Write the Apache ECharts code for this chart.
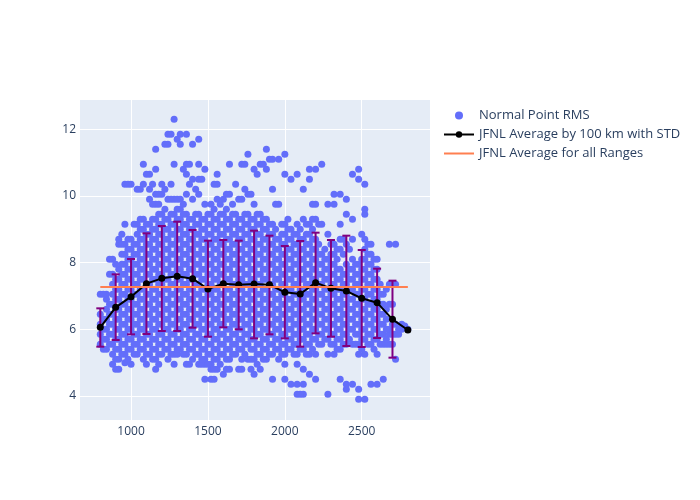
<!DOCTYPE html>
<html><head><meta charset="utf-8">
<script src="https://cdn.jsdelivr.net/npm/echarts@6/dist/echarts.min.js"></script>
<style>html,body{margin:0;padding:0;background:#fff}#c{width:700px;height:500px}</style>
</head><body><div id="c"></div>
<script>
// Scatter, set A: x of each column, and y values read in that column
const ptColsA = [800,840,880,920,960,1000,1040,1080,1120,1160,1200,1240,1280,1320,1360,1400,1440,1480,1520,1560,1600,1640,1680,1720,1760,1800,1840,1880,1920,1960,2000,2040,2080,2120,2160,2200,2240,2280,2320,2360,2400,2440,2480,2520,2560,2600,2640,2680,2720,2760,2800];
const ptValsA = [
 [5.55,5.85,6.15,6.45,7.05],
 [5.4,5.7,6.0,6.3,6.6,6.9,7.05],
 [4.95,5.25,5.55,5.85,6.15,6.45,6.75,7.05,7.35,7.65,8.1],
 [4.8,5.1,5.4,5.7,6.0,6.3,6.6,6.9,7.2,7.5,7.8,8.55,8.7],
 [5.0,5.25,5.55,5.85,6.15,6.45,6.75,7.05,7.35,7.65,7.95,8.25,8.55,9.15,10.35],
 [4.95,5.4,5.7,6.0,6.3,6.6,6.9,7.2,7.5,7.8,8.1,8.4,8.7,10.35],
 [5.25,5.55,5.85,6.15,6.45,6.75,7.05,7.35,7.65,7.95,8.25,8.55,8.85,9.15,10.2],
 [5.1,5.4,5.7,6.0,6.3,6.6,6.9,7.2,7.5,7.8,8.1,8.4,8.7,9.0,9.3,10.35,10.95],
 [5.25,5.55,5.85,6.15,6.45,6.75,7.05,7.35,7.65,7.95,8.25,8.55,8.85,9.15,9.9,10.2,10.65],
 [4.8,5.1,5.4,5.7,6.0,6.3,6.6,6.9,7.2,7.5,7.8,8.1,8.4,8.7,9.0,9.3,9.75,10.05,10.8,11.4],
 [5.25,5.55,5.85,6.15,6.45,6.75,7.05,7.35,7.65,7.95,8.25,8.55,8.85,9.15,9.45,10.05,10.35],
 [5.1,5.4,5.7,6.0,6.3,6.6,6.9,7.2,7.5,7.8,8.1,8.4,8.7,9.0,9.3,9.9,11.55,11.85],
 [4.95,5.25,5.55,5.85,6.15,6.45,6.75,7.05,7.35,7.65,7.95,8.25,8.55,8.85,9.15,9.45,9.9,10.95,12.3],
 [5.4,5.7,6.0,6.3,6.6,6.9,7.2,7.5,7.8,8.1,8.4,8.7,9.0,9.3,9.6,9.9,11.55,11.85],
 [4.95,5.25,5.55,5.85,6.15,6.45,6.75,7.05,7.35,7.65,7.95,8.25,8.55,8.85,9.15,9.45,10.05,10.65,10.95,11.85],
 [5.1,5.4,5.7,6.0,6.3,6.6,6.9,7.2,7.5,7.8,8.1,8.4,8.7,9.0,9.3,9.9,10.5,11.55],
 [4.95,5.25,5.55,5.85,6.15,6.45,6.75,7.05,7.35,7.65,7.95,8.25,8.55,8.85,9.15,9.45,10.05,10.5,10.95,11.7],
 [4.5,4.95,5.1,5.4,5.7,6.0,6.3,6.6,6.9,7.2,7.5,7.8,8.1,8.4,8.7,9.0,9.3,9.75,10.8],
 [4.5,4.8,4.95,5.25,5.55,5.85,6.15,6.45,6.75,7.05,7.35,7.65,7.95,8.25,8.55,8.85,9.15,9.45,9.75],
 [4.8,5.1,5.4,5.7,6.0,6.3,6.6,6.9,7.2,7.5,7.8,8.1,8.4,8.7,9.0,9.3,9.9,10.35,10.65],
 [4.65,5.25,5.55,5.85,6.15,6.45,6.75,7.05,7.35,7.65,7.95,8.25,8.55,8.85,9.15,9.45,9.9],
 [4.8,5.1,5.4,5.7,6.0,6.3,6.6,6.9,7.2,7.5,7.8,8.1,8.4,8.7,9.0,9.3,10.05,10.95],
 [5.25,5.55,5.85,6.15,6.45,6.75,7.05,7.35,7.65,7.95,8.25,8.55,8.85,9.15,9.45,10.35],
 [4.8,5.1,5.4,5.7,6.0,6.3,6.6,6.9,7.2,7.5,7.8,8.1,8.4,8.7,9.0,9.3,9.9,10.95],
 [5.1,5.55,5.85,6.15,6.45,6.75,7.05,7.35,7.65,7.95,8.25,8.55,8.85,9.15,9.45,10.05,11.25],
 [4.65,5.1,5.4,5.7,6.0,6.3,6.6,6.9,7.2,7.5,7.8,8.1,8.4,8.7,9.0,9.3,9.75,10.8],
 [4.8,5.25,5.55,5.85,6.15,6.45,6.75,7.05,7.35,7.65,7.95,8.25,8.55,8.85,9.15,9.45,10.95],
 [5.1,5.4,5.7,6.0,6.3,6.6,6.9,7.2,7.5,7.8,8.1,8.4,8.7,9.0,9.3,10.8,11.4],
 [4.5,5.25,5.55,5.85,6.15,6.45,6.75,7.05,7.35,7.65,7.95,8.25,8.55,8.85,9.15,10.2,11.1],
 [5.1,5.4,5.7,6.0,6.3,6.6,6.9,7.2,7.5,7.8,8.1,8.4,8.7,9.75,11.1],
 [4.5,4.95,5.25,5.55,5.85,6.15,6.45,6.75,7.05,7.35,7.65,7.95,8.25,8.55,8.85,9.15,10.65,11.25],
 [4.35,5.4,5.7,6.0,6.3,6.6,6.9,7.2,7.5,7.8,8.1,8.4,8.7,9.0,10.5],
 [4.05,4.35,4.95,5.25,5.55,5.85,6.15,6.45,6.75,7.05,7.35,7.65,7.95,8.25,8.55,8.85,9.15,10.65],
 [4.05,4.35,4.8,5.4,5.7,6.0,6.3,6.6,6.9,7.2,7.5,7.8,8.1,8.4,8.7,9.3,10.2],
 [4.65,5.25,5.55,5.85,6.15,6.45,6.75,7.05,7.35,7.65,7.95,8.25,8.55,8.85,9.15,10.5,10.8],
 [4.5,5.25,5.7,6.0,6.3,6.6,6.9,7.2,7.5,7.8,8.1,8.4,8.7,9.3,9.75,10.8],
 [5.55,5.85,6.15,6.45,6.75,7.05,7.35,7.65,7.95,8.25,9.15,10.95],
 [4.05,5.25,5.7,6.0,6.3,6.6,6.9,7.2,7.5,7.8,8.1,8.85,9.75],
 [5.25,5.55,5.85,6.15,6.45,6.75,7.05,7.35,7.65,7.95,8.25,8.55,9.75,10.05],
 [4.5,5.4,5.7,6.0,6.3,6.6,6.9,7.2,7.5,7.8,8.4,8.7,9.15,10.05],
 [4.2,4.35,5.55,5.85,6.15,6.45,6.75,7.05,7.35,7.65,7.95,8.55,9.45,9.9],
 [4.35,5.55,6.0,6.3,6.6,6.9,7.2,7.5,7.8,8.1,8.7,9.3,10.65],
 [3.9,4.2,5.25,5.55,5.85,6.15,6.45,6.75,7.05,7.35,7.65,7.95,10.5,10.8],
 [3.9,5.25,5.7,6.0,6.3,6.6,6.9,7.2,7.5,7.8,8.1,8.4,8.7,9.45,9.6,10.35],
 [4.35,5.55,5.85,6.15,6.45,6.75,7.05,7.35,7.65,7.95,8.25,8.55],
 [4.35,5.25,5.7,6.0,6.3,6.6,6.9,7.2,7.5,7.8,8.1],
 [4.5,5.55,5.85,6.15,6.45,6.75,7.05],
 [5.55,5.85,6.0,6.75,7.35,8.55],
 [5.1,5.85,6.15,7.35,8.55],
 [6.0,6.15],
 [6.0]
];
// Scatter, set B: columns between those of set A
const ptColsB = [820,860,900,940,980,1020,1060,1100,1140,1180,1220,1260,1300,1340,1380,1420,1460,1500,1540,1580,1620,1660,1700,1740,1780,1820,1860,1900,1940,1980,2020,2060,2100,2140,2180,2220,2260,2300,2340,2380,2420,2460,2500,2540,2580,2620,2660,2700,2740,2780];
const ptValsB = [
 [5.4,5.7,6.0,6.3,7.05],
 [5.55,5.85,6.15,6.45,6.75,7.65,8.1],
 [4.8,5.1,5.4,5.7,6.0,6.3,6.6,6.9,7.2,7.5,7.95],
 [5.25,5.55,5.85,6.15,6.45,6.75,7.05,7.35,7.65,7.95,8.25,8.55,8.85],
 [5.1,5.4,5.7,6.0,6.3,6.6,6.9,7.2,7.5,7.8,8.1,8.4,8.7,10.35],
 [5.25,5.55,5.85,6.15,6.45,6.75,7.05,7.35,7.65,7.95,8.25,8.55,9.15],
 [5.4,5.7,6.0,6.3,6.6,6.9,7.2,7.5,7.8,8.1,8.4,8.7,9.0,9.3,10.2],
 [4.95,5.25,5.55,5.85,6.15,6.45,6.75,7.05,7.35,7.65,7.95,8.25,8.55,8.85,9.15,10.65],
 [5.1,5.4,5.7,6.0,6.3,6.6,6.9,7.2,7.5,7.8,8.1,8.4,8.7,9.0,9.3,9.75,10.35],
 [4.95,5.25,5.55,5.85,6.15,6.45,6.75,7.05,7.35,7.65,7.95,8.25,8.55,8.85,9.15,9.45,9.75,10.05],
 [5.4,5.7,6.0,6.3,6.6,6.9,7.2,7.5,7.8,8.1,8.4,8.7,9.0,9.3,9.6,10.2,11.55],
 [5.25,5.55,5.85,6.15,6.45,6.75,7.05,7.35,7.65,7.95,8.25,8.55,8.85,9.15,9.45,9.9,10.35,11.85],
 [5.25,5.4,5.7,6.0,6.3,6.6,6.9,7.2,7.5,7.8,8.1,8.4,8.7,9.0,9.3,9.6,9.9,11.7],
 [5.25,5.55,5.85,6.15,6.45,6.75,7.05,7.35,7.65,7.95,8.25,8.55,8.85,9.15,9.45,9.75,10.8],
 [4.95,5.4,5.7,6.0,6.3,6.6,6.9,7.2,7.5,7.8,8.1,8.4,8.7,9.0,9.3,10.35,10.95],
 [5.25,5.55,5.85,6.15,6.45,6.75,7.05,7.35,7.65,7.95,8.25,8.55,8.85,9.15,9.45,10.2],
 [4.95,5.1,5.4,5.7,6.0,6.3,6.6,6.9,7.2,7.5,7.8,8.1,8.4,8.7,9.0,9.3,10.5],
 [4.95,5.25,5.55,5.85,6.15,6.45,6.75,7.05,7.35,7.65,7.95,8.25,8.55,8.85,9.15,9.45],
 [4.5,4.8,5.1,5.4,5.7,6.0,6.3,6.6,6.9,7.2,7.5,7.8,8.1,8.4,8.7,9.0,9.3,9.6,10.35],
 [4.95,5.25,5.55,5.85,6.15,6.45,6.75,7.05,7.35,7.65,7.95,8.25,8.55,8.85,9.15,9.45,9.75],
 [4.8,5.1,5.4,5.7,6.0,6.3,6.6,6.9,7.2,7.5,7.8,8.1,8.4,8.7,9.0,9.3,9.6,10.05],
 [5.25,5.55,5.85,6.15,6.45,6.75,7.05,7.35,7.65,7.95,8.25,8.55,8.85,9.15,9.45,9.75],
 [4.8,5.4,5.7,6.0,6.3,6.6,6.9,7.2,7.5,7.8,8.1,8.4,8.7,9.0,9.3,9.9],
 [5.25,5.55,5.85,6.15,6.45,6.75,7.05,7.35,7.65,7.95,8.25,8.55,8.85,9.15,9.45,10.2,10.95],
 [4.8,5.1,5.4,5.7,6.0,6.3,6.6,6.9,7.2,7.5,7.8,8.1,8.4,8.7,9.0,9.3,10.05],
 [4.95,5.25,5.55,5.85,6.15,6.45,6.75,7.05,7.35,7.65,7.95,8.25,8.55,8.85,9.15,9.45,10.65],
 [5.1,5.4,5.7,6.0,6.3,6.6,6.9,7.2,7.5,7.8,8.1,8.4,8.7,9.0,9.3,10.95],
 [5.25,5.55,5.85,6.15,6.45,6.75,7.05,7.35,7.65,7.95,8.25,8.55,8.85,9.15,11.1],
 [5.4,5.7,6.0,6.3,6.6,6.9,7.2,7.5,7.8,8.1,8.4,8.7,9.0,9.75],
 [5.25,5.55,5.85,6.15,6.45,6.75,7.05,7.35,7.65,7.95,8.25,8.55,8.85,9.15],
 [5.4,5.7,6.0,6.3,6.6,6.9,7.2,7.5,7.8,8.1,8.4,8.7,9.0,9.3],
 [5.25,5.55,5.85,6.15,6.45,6.75,7.05,7.35,7.65,7.95,8.25,8.55,8.85],
 [4.05,5.4,5.7,6.0,6.3,6.6,6.9,7.2,7.5,7.8,8.1,8.4,8.7,9.0],
 [5.25,5.55,5.85,6.15,6.45,6.75,7.05,7.35,7.65,7.95,8.25,8.55,8.85,9.15],
 [5.4,5.7,6.0,6.3,6.6,6.9,7.2,7.5,7.8,8.1,8.4,8.7,9.0,9.3,9.75],
 [5.55,5.85,6.15,6.45,6.75,7.05,7.35,7.65,7.95,8.25,8.55,9.15],
 [5.7,6.0,6.3,6.6,6.9,7.2,7.5,7.8,8.1,8.4],
 [5.55,5.85,6.15,6.45,6.75,7.05,7.35,7.65,7.95,8.25,8.55],
 [5.4,5.7,6.0,6.3,6.6,6.9,7.2,7.5,7.8,8.1,8.4],
 [5.55,5.85,6.15,6.45,6.75,7.05,7.35,7.65,8.25,8.7],
 [5.7,6.0,6.3,6.6,6.9,7.2,7.5,7.8,8.4],
 [5.55,5.85,6.15,6.45,6.75,7.05,7.35,7.65,7.95],
 [5.4,5.7,6.0,6.3,6.6,6.9,7.2,7.5,7.8,8.1,8.85],
 [5.55,5.85,6.15,6.45,6.75,7.05,7.35,7.65,7.95,8.25,8.55],
 [5.4,5.7,6.0,6.3,6.6,6.9,7.2,7.5,7.8,8.1],
 [5.55,5.85,6.15,6.45,6.75,7.05,7.35],
 [5.55,5.7,6.0,6.3,6.6,7.2],
 [5.55,5.85,6.15,6.75,7.35],
 [5.85,6.0],
 [6.1]
];
// Average by 100 km with STD
const avgX = [800,900,1000,1100,1200,1300,1400,1500,1600,1700,1800,1900,2000,2100,2200,2300,2400,2500,2600,2700,2800];
const avgY = [6.06,6.66,6.98,7.37,7.53,7.59,7.52,7.21,7.37,7.34,7.36,7.34,7.11,7.06,7.40,7.23,7.15,6.93,6.80,6.30,5.98];
const errHi = [6.63,7.65,8.11,8.88,9.10,9.23,8.98,8.66,8.68,8.66,8.96,8.81,8.50,8.65,8.90,8.68,8.81,8.38,7.82,7.46,null];
const errLo = [5.48,5.68,5.85,5.86,5.95,5.95,6.05,5.78,6.06,6.00,5.73,5.85,5.73,5.48,5.88,5.78,5.50,5.47,5.74,5.15,null];
// Overall average
const allX = [800,2800];
const allY = [7.27,7.27];
const xTicks = [1000,1500,2000,2500];
const yTicks = [4,6,8,10,12];

const scatterData = [];
ptColsA.forEach((x,i)=>ptValsA[i].forEach(y=>scatterData.push([x,y])));
ptColsB.forEach((x,i)=>ptValsB[i].forEach(y=>scatterData.push([x,y])));
const errData = [];
avgX.forEach((x,i)=>{ if(errHi[i]!=null) errData.push([x,errLo[i],errHi[i]]); });

const font = '"Open Sans", verdana, arial, sans-serif';
const chart = echarts.init(document.getElementById('c'), null, {renderer:'canvas'});
chart.setOption({
  animation:false,
  backgroundColor:'#fff',
  textStyle:{fontFamily:font},
  grid:{left:80,right:270,top:100,bottom:80,show:true,backgroundColor:'#E5ECF6',borderWidth:0},
  legend:{
    left:443, top:109, orient:'vertical', padding:0, itemGap:6, itemWidth:30, itemHeight:8,
    textStyle:{fontFamily:font,fontSize:13,color:'#2a3f5f'},
    data:[
      {name:'Normal Point RMS', icon:'circle', itemStyle:{color:'#636EFA'}},
      {name:'JFNL Average by 100 km with STD'},
      {name:'JFNL Average for all Ranges', itemStyle:{opacity:0}}
    ]
  },
  xAxis:{
    type:'value', min:668, max:2944,
    axisLine:{show:false}, axisTick:{show:false, customValues:xTicks},
    axisLabel:{customValues:xTicks, color:'#2a3f5f', fontSize:12, fontFamily:font, margin:6, formatter:v=>String(v)},
    splitLine:{show:true, lineStyle:{color:'#fff', width:1}}
  },
  yAxis:{
    type:'value', min:3.28, max:12.88,
    axisLine:{show:false}, axisTick:{show:false, customValues:yTicks},
    axisLabel:{customValues:yTicks, color:'#2a3f5f', fontSize:12, fontFamily:font, margin:4},
    splitLine:{show:true, lineStyle:{color:'#fff', width:1}}
  },
  series:[
    {name:'Normal Point RMS', type:'scatter', data:scatterData, symbolSize:7,
     itemStyle:{color:'#636EFA', opacity:1}, z:2, silent:true, large:false},
    {name:'JFNL Average by 100 km with STD', type:'line', data:avgX.map((x,i)=>[x,avgY[i]]),
     symbol:'circle', symbolSize:7, showSymbol:true,
     lineStyle:{color:'#000',width:2}, itemStyle:{color:'#000'}, z:4},
    {name:'errbars', type:'custom', data:errData, z:3,
     renderItem:(params, api)=>{
       const x=api.value(0), lo=api.value(1), hi=api.value(2);
       const p1=api.coord([x,lo]), p2=api.coord([x,hi]);
       const w=4, st={stroke:'#800080', lineWidth:2};
       return {type:'group', children:[
         {type:'line', shape:{x1:p1[0],y1:p1[1],x2:p2[0],y2:p2[1]}, style:st},
         {type:'line', shape:{x1:p1[0]-w,y1:p1[1],x2:p1[0]+w,y2:p1[1]}, style:st},
         {type:'line', shape:{x1:p2[0]-w,y1:p2[1],x2:p2[0]+w,y2:p2[1]}, style:st}
       ]};
     }},
    {name:'JFNL Average for all Ranges', type:'line', data:allX.map((x,i)=>[x,allY[i]]),
     symbol:'none', lineStyle:{color:'#FF7F50', width:2}, itemStyle:{color:'#FF7F50'}, z:5}
  ]
});
</script></body></html>
